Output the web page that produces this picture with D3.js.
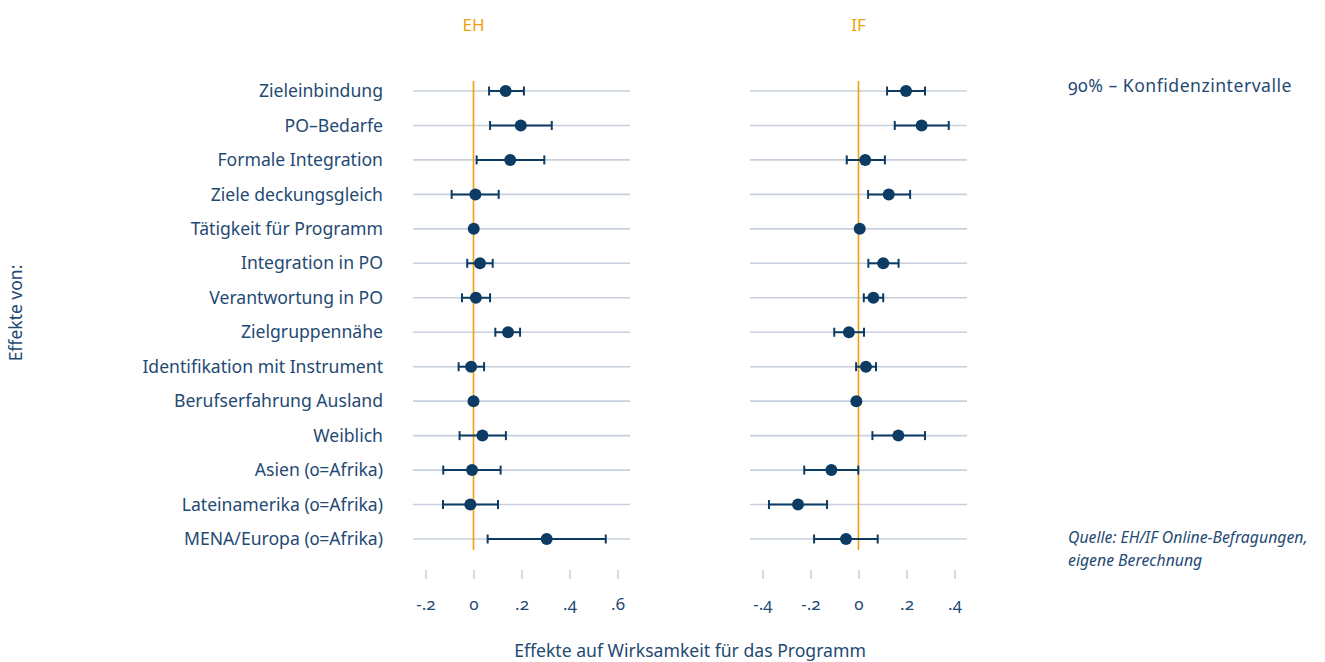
<!DOCTYPE html>
<html><head><meta charset="utf-8">
<script src="https://cdn.jsdelivr.net/npm/d3@7"></script>
<style>
body{margin:0;background:#fff;}
svg text{font-family:"Noto Sans",sans-serif;font-variant-numeric:oldstyle-nums;}
</style></head>
<body><svg id="c" width="1325" height="662"></svg>
<script>
const categories = ["Zieleinbindung","PO–Bedarfe","Formale Integration","Ziele deckungsgleich","Tätigkeit für Programm","Integration in PO","Verantwortung in PO","Zielgruppennähe","Identifikation mit Instrument","Berufserfahrung Ausland","Weiblich","Asien (0=Afrika)","Lateinamerika (0=Afrika)","MENA/Europa (0=Afrika)"];
const ehEst = [0.134,0.197,0.153,0.008,0.001,0.027,0.010,0.144,-0.010,0.000,0.037,-0.006,-0.013,0.305];
const ehLo  = [0.065,0.069,0.013,-0.091,0.001,-0.026,-0.048,0.091,-0.062,0.000,-0.058,-0.126,-0.127,0.059];
const ehHi  = [0.210,0.326,0.295,0.105,0.001,0.080,0.069,0.194,0.044,0.000,0.135,0.113,0.102,0.551];
const ifEst = [0.198,0.263,0.028,0.126,0.005,0.103,0.062,-0.040,0.031,-0.009,0.166,-0.113,-0.252,-0.052];
const ifLo  = [0.119,0.151,-0.049,0.040,0.005,0.041,0.022,-0.101,-0.010,-0.009,0.058,-0.226,-0.373,-0.185];
const ifHi  = [0.277,0.376,0.110,0.215,0.005,0.167,0.103,0.023,0.073,-0.009,0.277,-0.001,-0.131,0.080];
const ehTicks = [-0.2,0,0.2,0.4,0.6];
const ehTickLabels = ["-.2","0",".2",".4",".6"];
const ifTicks = [-0.4,-0.2,0,0.2,0.4];
const ifTickLabels = ["-.4","-.2","0",".2",".4"];

const navy = "#1f4a73", dot = "#0c3b63", orange = "#f0a00f", grid = "#c7d0dc", tickC = "#b9c3cf";
const svg = d3.select("#c");
const y = d3.scalePoint().domain(categories).range([91, 539]);

const panels = [
  {title:"EH", est:ehEst, lo:ehLo, hi:ehHi, ticks:ehTicks, labels:ehTickLabels,
   x:d3.scaleLinear().domain([-0.252,0.652]).range([413,630])},
  {title:"IF", est:ifEst, lo:ifLo, hi:ifHi, ticks:ifTicks, labels:ifTickLabels,
   x:d3.scaleLinear().domain([-0.452,0.452]).range([750,967])}
];

panels.forEach(p => {
  const g = svg.append("g");
  const [x0,x1] = p.x.range();
  g.selectAll("line.grid").data(categories).enter().append("line")
    .attr("x1",x0).attr("x2",x1).attr("y1",d=>y(d)).attr("y2",d=>y(d))
    .attr("stroke",grid).attr("stroke-width",1.6);
  g.append("line").attr("x1",p.x(0)).attr("x2",p.x(0)).attr("y1",81).attr("y2",550)
    .attr("stroke",orange).attr("stroke-width",1.6);
  g.append("text").attr("x",p.x(0)).attr("y",31).attr("text-anchor","middle")
    .attr("fill",orange).attr("font-size",17).text(p.title);
  const rows = categories.map((c,i)=>({c, e:p.est[i], lo:p.lo[i], hi:p.hi[i]}));
  const ci = rows.filter(r=>r.hi>r.lo);
  g.selectAll("line.ci").data(ci).enter().append("line")
    .attr("x1",d=>p.x(d.lo)).attr("x2",d=>p.x(d.hi)).attr("y1",d=>y(d.c)).attr("y2",d=>y(d.c))
    .attr("stroke",dot).attr("stroke-width",2);
  ["lo","hi"].forEach(k=>{
    g.selectAll("line.cap"+k).data(ci).enter().append("line")
      .attr("x1",d=>p.x(d[k])).attr("x2",d=>p.x(d[k])).attr("y1",d=>y(d.c)-4.5).attr("y2",d=>y(d.c)+4.5)
      .attr("stroke",dot).attr("stroke-width",2);
  });
  g.selectAll("circle").data(rows).enter().append("circle")
    .attr("cx",d=>p.x(d.e)).attr("cy",d=>y(d.c)).attr("r",6).attr("fill",dot);
  const ax = d3.axisBottom(p.x).tickValues(p.ticks).tickSize(9).tickPadding(19)
    .tickFormat((d,i)=>p.labels[i]);
  const ag = g.append("g").attr("transform","translate(0,570)").call(ax);
  ag.select(".domain").remove();
  ag.selectAll(".tick line").attr("stroke",tickC).attr("stroke-width",1.2);
  ag.selectAll(".tick text").attr("fill",navy).attr("font-size",17)
    .style("font-family",'"Noto Sans",sans-serif');
});

svg.append("g").selectAll("text").data(categories).enter().append("text")
  .attr("x",383).attr("y",d=>y(d)).attr("dy","0.35em").attr("text-anchor","end")
  .attr("fill",navy).attr("font-size",17.6).text(d=>d);

svg.append("text").attr("x",690).attr("y",657).attr("text-anchor","middle")
  .attr("fill",navy).attr("font-size",17.6).text("Effekte auf Wirksamkeit für das Programm");
svg.append("text").attr("transform","translate(22,313) rotate(-90)").attr("text-anchor","middle")
  .attr("fill",navy).attr("font-size",17.5).text("Effekte von:");
svg.append("text").attr("x",1068).attr("y",92).attr("fill",navy).attr("font-size",17.6)
  .attr("letter-spacing",0.5).text("90% – Konfidenzintervalle");
const q = svg.append("text").attr("fill",navy).attr("font-size",15.8).attr("font-style","italic");
q.append("tspan").attr("x",1068).attr("y",543).text("Quelle: EH/IF Online-Befragungen,");
q.append("tspan").attr("x",1068).attr("y",566).text("eigene Berechnung");
</script></body></html>
